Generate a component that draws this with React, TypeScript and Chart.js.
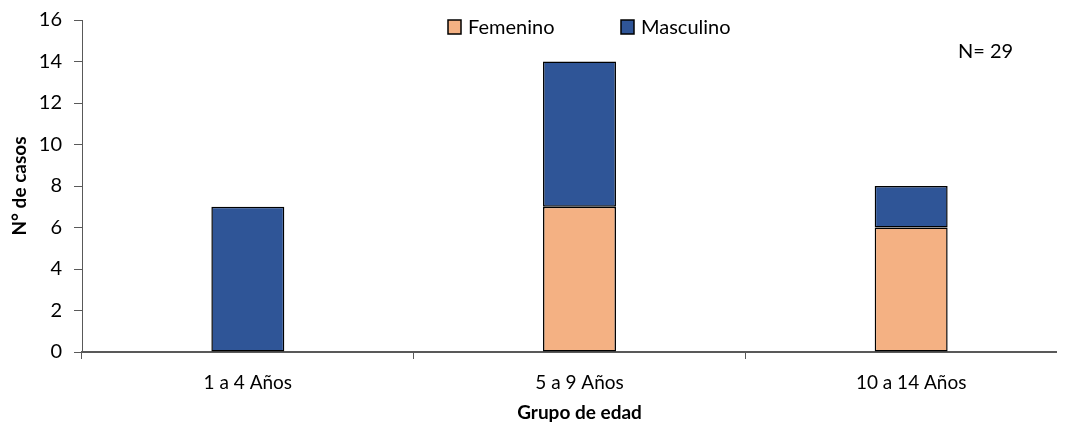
import React, { useEffect, useRef } from "react";
import { Chart, registerables } from "chart.js";

Chart.register(...registerables);

const categories = ["1 a 4 Años", "5 a 9 Años", "10 a 14 Años"];
const femenino = [0, 7, 6];
const masculino = [7, 7, 2];
const seriesNames = ["Femenino", "Masculino"];
const seriesColors = ["#F4B183", "#2F5597"];
const yMin = 0;
const yMax = 16;
const yStep = 2;
const xTitle = "Grupo de edad";
const yTitle = "N° de casos";

const FONT = "Lato, 'Open Sans', sans-serif";

const overlayPlugin = {
  id: "overlayLegend",
  afterDraw(chart: any) {
    const ctx = chart.ctx as CanvasRenderingContext2D;
    ctx.save();
    const starts = [440, 613];
    chart.data.datasets.forEach((ds: any, i: number) => {
      const x = starts[i];
      const y = 12;
      ctx.fillStyle = ds.backgroundColor;
      ctx.fillRect(x, y, 13, 14);
      ctx.strokeStyle = "#000";
      ctx.lineWidth = 1.5;
      ctx.strokeRect(x, y, 13, 14);
      ctx.fillStyle = "#000";
      ctx.font = `20px ${FONT}`;
      ctx.textBaseline = "middle";
      ctx.textAlign = "left";
      ctx.fillText(ds.label, x + 20, y + 8);
    });
    let total = 0;
    chart.data.datasets.forEach((ds: any) => {
      ds.data.forEach((v: number) => (total += v));
    });
    ctx.font = `20px ${FONT}`;
    ctx.fillStyle = "#000";
    ctx.textBaseline = "middle";
    ctx.fillText(`N= ${total}`, 950, 44);
    ctx.restore();
  },
};

export default function App() {
  const ref = useRef<HTMLCanvasElement>(null);
  useEffect(() => {
    if (!ref.current) return;
    const chart = new Chart(ref.current, {
      type: "bar",
      data: {
        labels: categories,
        datasets: [
          {
            label: seriesNames[0],
            data: femenino,
            backgroundColor: seriesColors[0],
            borderColor: "#000",
            borderWidth: 1.5,
            borderSkipped: false,
          },
          {
            label: seriesNames[1],
            data: masculino,
            backgroundColor: seriesColors[1],
            borderColor: "#000",
            borderWidth: 1.5,
            borderSkipped: false,
          },
        ],
      },
      options: {
        animation: false,
        responsive: false,
        maintainAspectRatio: false,
        devicePixelRatio: 1,
        layout: { padding: { top: 12, right: 6, left: 0, bottom: 0 } },
        plugins: {
          legend: { display: false },
          tooltip: { enabled: false },
        },
        datasets: {
          bar: { barPercentage: 0.22, categoryPercentage: 1 },
        },
        scales: {
          x: {
            stacked: true,
            grid: {
              offset: true,
              drawOnChartArea: false,
              drawTicks: true,
              tickLength: 7,
              color: "#595959",
              lineWidth: 1,
            },
            border: { color: "#595959", width: 2 },
            ticks: {
              color: "#000",
              font: { family: FONT, size: 19 },
              padding: 12,
            },
            title: {
              display: true,
              text: xTitle,
              color: "#000",
              font: { family: FONT, size: 19, weight: "bold" },
              padding: { top: 0, bottom: 0 },
            },
            afterFit(scale: any) {
              scale.height = 72;
              scale.paddingLeft = 0;
              scale.paddingRight = 0;
            },
          },
          y: {
            stacked: true,
            min: yMin,
            max: yMax,
            ticks: {
              stepSize: yStep,
              color: "#000",
              font: { family: FONT, size: 20 },
              padding: 12,
            },
            grid: {
              drawOnChartArea: false,
              drawTicks: true,
              tickLength: 8,
              color: "#595959",
            },
            border: { color: "#595959", width: 1 },
            title: {
              display: true,
              text: yTitle,
              color: "#000",
              font: { family: FONT, size: 19, weight: "bold" },
              padding: { top: 0, bottom: 0 },
            },
            afterFit(scale: any) {
              scale.width = 74;
              scale.paddingTop = 0;
              scale.paddingBottom = 0;
            },
          },
        },
      },
      plugins: [overlayPlugin],
    });
    return () => chart.destroy();
  }, []);

  return (
    <div style={{ width: 1057, height: 416, overflow: "hidden" }}>
      <div style={{ width: 1075, height: 416 }}>
        <canvas ref={ref} width={1075} height={416} style={{ width: 1075, height: 416 }} />
      </div>
    </div>
  );
}
